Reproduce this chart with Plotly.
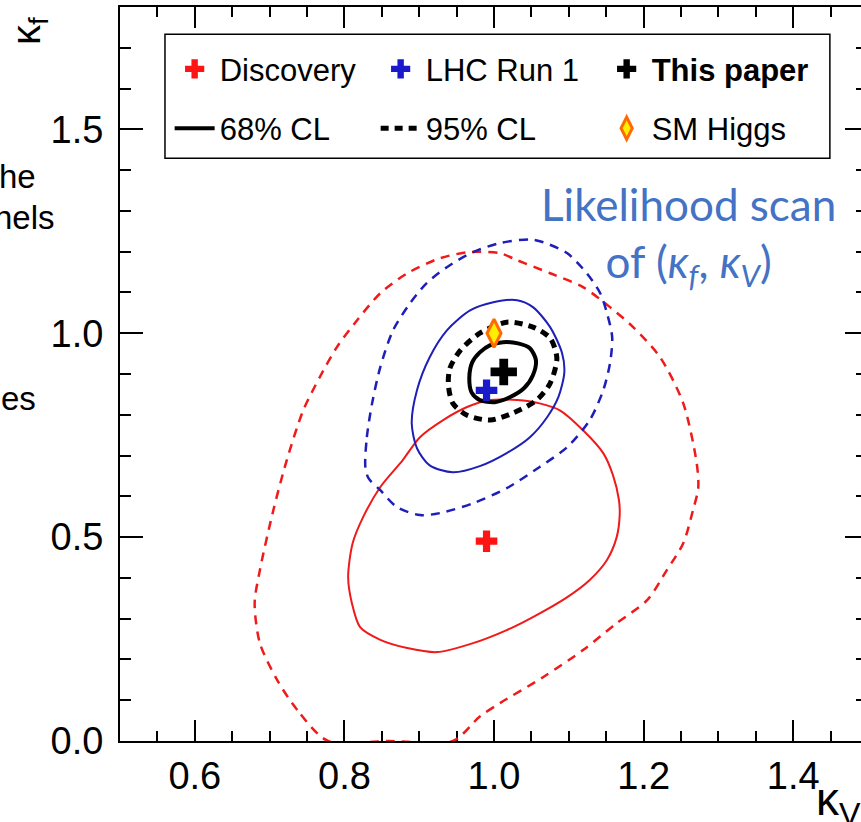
import plotly.graph_objects as go

# ---------------- data: couplings (kappa_V, kappa_f) ----------------
# best-fit points
discovery_kv, discovery_kf = [0.99], [0.49]
run1_kv, run1_kf = [0.99], [0.86]
paper_kv, paper_kf = [1.013], [0.905]
sm_kv, sm_kf = [1.0], [1.0]

# Discovery contours
disc68_kv = [0.805, 0.811, 0.825, 0.848, 0.878, 0.901, 0.932, 0.964, 0.995, 1.031, 1.061, 1.088,
             1.119, 1.146, 1.159, 1.167, 1.168, 1.164, 1.151, 1.128, 1.098, 1.052, 1.017, 0.972,
             0.924, 0.884, 0.848, 0.821, 0.810, 0.805]
disc68_kf = [0.402, 0.485, 0.549, 0.623, 0.689, 0.745, 0.787, 0.819, 0.836, 0.836, 0.828, 0.811,
             0.762, 0.706, 0.652, 0.591, 0.554, 0.500, 0.444, 0.395, 0.353, 0.304, 0.272, 0.240,
             0.218, 0.228, 0.248, 0.279, 0.338, 0.402]
disc95_kv = [0.778, 0.737, 0.710, 0.687, 0.680, 0.687, 0.705, 0.723, 0.745, 0.767, 0.790, 0.817,
             0.848, 0.884, 0.928, 0.968, 1.008, 1.031, 1.075, 1.119, 1.155, 1.186, 1.222, 1.253,
             1.271, 1.273, 1.266, 1.253, 1.231, 1.205, 1.164, 1.119, 1.066, 1.008, 0.981, 0.945,
             0.860, 0.778]
disc95_kf = [0.000, 0.076, 0.150, 0.240, 0.338, 0.419, 0.566, 0.689, 0.811, 0.892, 0.966, 1.032,
             1.098, 1.147, 1.184, 1.199, 1.196, 1.179, 1.147, 1.113, 1.064, 1.015, 0.941, 0.828,
             0.681, 0.620, 0.566, 0.485, 0.419, 0.346, 0.289, 0.223, 0.157, 0.093, 0.060, 0.000,
             0.000, 0.000]

# LHC Run 1 contours
run1_68_kv = [0.890, 0.897, 0.914, 0.937, 0.968, 0.999, 1.031, 1.052, 1.075, 1.091, 1.094, 1.086,
              1.071, 1.048, 1.017, 0.981, 0.945, 0.914, 0.897, 0.890]
run1_68_kf = [0.779, 0.860, 0.941, 1.007, 1.056, 1.076, 1.081, 1.064, 1.015, 0.951, 0.904, 0.843,
              0.794, 0.745, 0.706, 0.674, 0.659, 0.676, 0.718, 0.779]
run1_95_kv = [0.828, 0.830, 0.837, 0.848, 0.865, 0.888, 0.910, 0.937, 0.972, 1.008, 1.048, 1.066,
              1.098, 1.124, 1.142, 1.151, 1.158, 1.155, 1.146, 1.128, 1.098, 1.061, 1.017, 0.972,
              0.928, 0.901, 0.870, 0.848, 0.832, 0.828]
run1_95_kf = [0.672, 0.745, 0.828, 0.917, 1.007, 1.074, 1.123, 1.162, 1.199, 1.221, 1.230, 1.223,
              1.196, 1.147, 1.098, 1.049, 0.990, 0.926, 0.860, 0.787, 0.721, 0.672, 0.620, 0.583,
              0.559, 0.554, 0.574, 0.615, 0.645, 0.672]

# This paper contours
paper68_kv = [0.967, 0.971, 0.981, 0.995, 1.012, 1.032, 1.048, 1.056, 1.052, 1.040, 1.021, 1.001,
              0.981, 0.970, 0.967]
paper68_kf = [0.892, 0.929, 0.953, 0.971, 0.978, 0.975, 0.963, 0.934, 0.897, 0.865, 0.843, 0.831,
              0.836, 0.855, 0.892]
paper95_kv = [0.939, 0.941, 0.955, 0.981, 1.017, 1.052, 1.075, 1.084, 1.075, 1.057, 1.025, 0.995,
              0.964, 0.945, 0.939]
paper95_kf = [0.873, 0.914, 0.958, 1.000, 1.027, 1.015, 0.988, 0.939, 0.877, 0.836, 0.804, 0.787,
              0.799, 0.828, 0.873]

# axis ticks
x_major = [0.6, 0.8, 1.0, 1.2, 1.4]
x_labels = ["0.6", "0.8", "1.0", "1.2", "1.4"]
y_major = [0.0, 0.5, 1.0, 1.5]
y_labels = ["0.0", "0.5", "1.0", "1.5"]

# ---------------- styling ----------------
RED = "#f01a1a"
BLUE = "#1e1eb8"
FONT = "Liberation Sans"

fig = go.Figure()

def contour(kv, kf, color, width, dash, **kw):
    fig.add_trace(go.Scatter(
        x=kv, y=kf, mode="lines",
        line=dict(color=color, width=width, dash=dash, shape="spline", smoothing=0.8),
        hoverinfo="skip", **kw))

contour(disc95_kv, disc95_kf, RED, 2.5, "9px,7px", showlegend=False)
contour(disc68_kv, disc68_kf, RED, 2, "solid", showlegend=False)
contour(run1_95_kv, run1_95_kf, BLUE, 2.5, "9px,7px", showlegend=False)
contour(run1_68_kv, run1_68_kf, BLUE, 2, "solid", showlegend=False)
contour(paper68_kv, paper68_kf, "black", 4, "solid",
        name="68% CL", legend="legend", legendgroup="cl68", legendrank=2, showlegend=True)
contour(paper95_kv, paper95_kf, "black", 5, "8px,6px",
        name="95% CL", legend="legend2", legendgroup="cl95", legendrank=2, showlegend=True)

def point(kv, kf, name, legend, group, symbol, size, color, lcolor=None, lwidth=0):
    fig.add_trace(go.Scatter(
        x=kv, y=kf, mode="markers", name=name, legend=legend, legendgroup=group,
        legendrank=1,
        marker=dict(symbol=symbol, size=size, color=color,
                    line=dict(color=lcolor or color, width=lwidth)),
        hoverinfo="skip"))

point(discovery_kv, discovery_kf, "Discovery", "legend", "disc", "cross", 18, "#ff1414")
point(run1_kv, run1_kf, "LHC Run 1", "legend2", "run1", "cross", 18, "#1a1acc")
point(paper_kv, paper_kf, "<b>This paper</b>", "legend3", "paper", "cross", 22, "black")
point(sm_kv, sm_kf, "SM Higgs", "legend3", "sm", "diamond-tall", 20, "#ffee00", "#ff6a00", 3)

# right-hand tick marks
fig.add_trace(go.Scatter(x=[None], y=[None], yaxis="y2", showlegend=False, hoverinfo="skip"))

# legend frame
fig.add_shape(type="rect", xref="paper", yref="paper",
              x0=0.0607, x1=0.958, y0=0.794, y1=0.963,
              line=dict(color="black", width=1.5), fillcolor="white", layer="below")

leg = dict(orientation="v", bgcolor="rgba(0,0,0,0)", borderwidth=0,
           font=dict(family=FONT, size=31, color="black"),
           tracegroupgap=16, traceorder="grouped", itemwidth=40,
           xanchor="left", yanchor="top", y=0.952)

axis_font = dict(family=FONT, size=38, color="black")

fig.update_layout(
    width=861, height=822,
    margin=dict(l=120, r=0, t=7, b=81),
    paper_bgcolor="white", plot_bgcolor="white",
    legend=dict(leg, x=0.067),
    legend2=dict(leg, x=0.345),
    legend3=dict(leg, x=0.650),
    xaxis=dict(range=[0.5, 1.4906], showgrid=False, zeroline=False,
               showline=True, linecolor="black", linewidth=2, mirror="ticks",
               ticks="inside", ticklen=21, tickwidth=1.5, tickcolor="black",
               tickvals=x_major, ticktext=x_labels, tickfont=axis_font,
               minor=dict(dtick=0.05, tick0=0.5, ticks="inside", ticklen=10,
                          tickwidth=1.5, tickcolor="black", showgrid=False),
               layer="below traces"),
    yaxis=dict(range=[0, 1.8], showgrid=False, zeroline=False,
               showline=True, linecolor="black", linewidth=2, mirror=False,
               ticks="inside", ticklen=23, tickwidth=1.5, tickcolor="black",
               tickvals=y_major, ticktext=y_labels, tickfont=axis_font,
               ticklabelstandoff=7,
               minor=dict(dtick=0.1, tick0=0, ticks="inside", ticklen=11,
                          tickwidth=1.5, tickcolor="black", showgrid=False),
               layer="below traces"),
    yaxis2=dict(range=[0, 1.8], overlaying="y", side="right", anchor="x",
                showgrid=False, zeroline=False, showline=False,
                showticklabels=False, ticks="inside", ticklen=16, tickwidth=1.5,
                tickcolor="black", tickvals=y_major,
                minor=dict(dtick=0.1, tick0=0, ticks="inside", ticklen=5,
                           tickwidth=1.5, tickcolor="black", showgrid=False)),
)

# axis titles
fig.add_annotation(text="κ<sub>f</sub>", xref="paper", yref="paper",
                   x=(29 - 120) / 741, y=(741 - 31) / 734,
                   xanchor="center", yanchor="middle", textangle=-90, showarrow=False,
                   font=dict(family=FONT, size=40, color="black"))
fig.add_annotation(text="κ<sub>V</sub>", xref="paper", yref="paper",
                   x=(814 - 120) / 741, y=(741 - 802) / 734,
                   xanchor="left", yanchor="middle", showarrow=False,
                   font=dict(family=FONT, size=46, color="black"))

# callout
fig.add_annotation(text="Likelihood scan<br>of (<i>κ<sub>f</sub></i>, <i>κ<sub>V</sub></i>)",
                   xref="paper", yref="paper",
                   x=(688 - 120) / 741, y=(741 - 236) / 734,
                   xanchor="center", yanchor="middle", showarrow=False, align="center",
                   font=dict(family="Lato", size=44, color="#4472C4"))

# surrounding slide text
for txt, xr, yc in [("he", 38, 176), ("nels", 57, 218), ("es", 38, 398)]:
    fig.add_annotation(text=txt, xref="paper", yref="paper",
                       x=(xr - 120) / 741, y=(741 - yc) / 734,
                       xanchor="right", yanchor="middle", showarrow=False,
                       font=dict(family=FONT, size=33, color="black"))

fig.write_html("out.html")
